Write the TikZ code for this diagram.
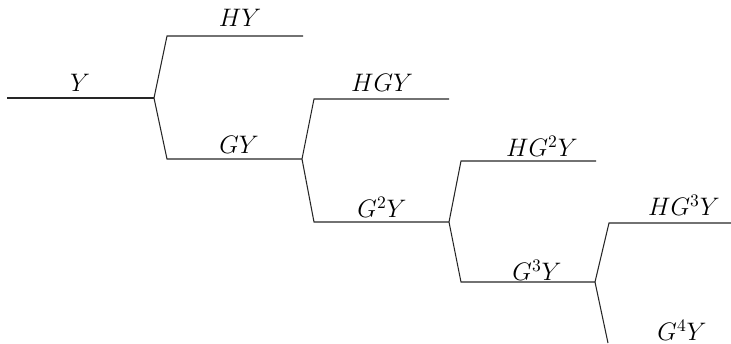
\documentclass[tikz,border=0pt]{standalone}
\usepackage{tikz}

\begin{document}
\begin{tikzpicture}[x=0.02cm,y=-0.02cm,
    branch/.style={line width=0.6pt,black!85},
    lab/.style={inner sep=0pt,font=\fontsize{14}{16}\selectfont}]
  \useasboundingbox (0,0) rectangle (731,343);
  % branch points and line ends
  \coordinate (Y0) at (7,98);
  \coordinate (B1) at (154,98);
  \coordinate (U1) at (167,36);   \coordinate (E1) at (303,36);
  \coordinate (L1) at (167,159);  \coordinate (B2) at (302,159);
  \coordinate (U2) at (314,99);   \coordinate (E2) at (449,99);
  \coordinate (L2) at (314,222);  \coordinate (B3) at (449,222);
  \coordinate (U3) at (461,161);  \coordinate (E3) at (596,161);
  \coordinate (L3) at (461,282);  \coordinate (B4) at (595,282);
  \coordinate (U4) at (609,223);  \coordinate (E4) at (731,223);
  \coordinate (L4) at (608,343);
  % the tree
  \draw[branch] (Y0) -- (B1);
  \draw[branch] (B1) -- (U1) -- (E1);
  \draw[branch] (B1) -- (L1) -- (B2);
  \draw[branch] (B2) -- (U2) -- (E2);
  \draw[branch] (B2) -- (L2) -- (B3);
  \draw[branch] (B3) -- (U3) -- (E3);
  \draw[branch] (B3) -- (L3) -- (B4);
  \draw[branch] (B4) -- (U4) -- (E4);
  \draw[branch] (B4) -- (L4);
  % labels
  \node[lab] (tY)   at (80,83)   {$Y$};
  \node[lab] (tHY)  at (240,18)  {$HY$};
  \node[lab] (tGY)  at (239,145) {$GY$};
  \node[lab] (tHGY) at (382,83)  {$HGY$};
  \node[lab] (tGGY) at (382,207) {$G^2Y$};
  \node[lab] (tHG2) at (542,146) {$HG^2Y$};
  \node[lab] (tG3)  at (537,270) {$G^3Y$};
  \node[lab] (tHG3) at (684,205) {$HG^3Y$};
  \node[lab] (tG4)  at (682,330) {$G^4Y$};
\end{tikzpicture}
\end{document}
